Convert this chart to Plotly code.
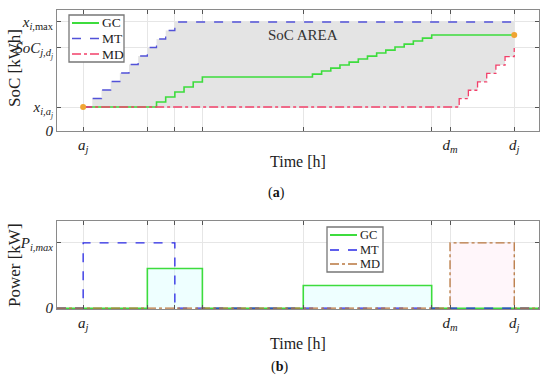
import plotly.graph_objects as go

# ---- data (time in charging steps, a_j = 0) ----
x_range = [-2.85, 49.7]
grid_t = [0, 7, 10, 13, 24, 38, 40, 47]
x_tick_vals = [0, 40, 47]
x_tick_text = ["<i>a<sub>j</sub></i>", "<i>d<sub>m</sub></i>", "<i>d<sub>j</sub></i>"]

soc_tick_vals = [0, 0.22, 0.762, 1.0]
soc_tick_text = ["<i>0</i>", "<i>x<sub>i,a<sub>j</sub></sub></i>",
                 "<i>S\u0303oC<sub>j,d<sub>j</sub></sub></i>", "<i>x<sub>i,</sub></i><sub>max</sub>"]
pow_tick_vals = [0, 1.0]
pow_tick_text = ["<i>0</i>", "<i>P<sub>i,max</sub></i>"]

# SoC staircases (value held after each time point)
mt_t = [0, 1, 2, 3, 4, 5, 6, 7, 8, 9, 10, 47]
mt_soc = [0.22, 0.298, 0.376, 0.454, 0.532, 0.61, 0.688, 0.766, 0.844, 0.922, 1.0, 1.0]
gc_t = [0, 7, 8, 9, 10, 11, 12, 13, 24, 25, 26, 27, 28, 29, 30, 31, 32, 33, 34, 35, 36, 37, 38, 47]
gc_soc = [0.22, 0.22, 0.266, 0.312, 0.358, 0.404, 0.45, 0.495, 0.495, 0.522, 0.55, 0.577,
          0.605, 0.632, 0.66, 0.687, 0.715, 0.742, 0.77, 0.797, 0.825, 0.852, 0.881, 0.881]
md_t = [0, 40, 41, 42, 43, 44, 45, 46, 47]
md_soc = [0.22, 0.22, 0.297, 0.374, 0.451, 0.528, 0.605, 0.682, 0.762]

# Power blocks: (start, end, level as fraction of P_max)
mt_blocks = [(0, 10, 1.0)]
gc_blocks = [(7, 13, 0.606), (24, 38, 0.348)]
md_blocks = [(40, 47, 1.0)]

series_names = ["GC", "MT", "MD"]

# ---- helpers ----
def expand(ts, vs):
    xs, ys = [ts[0]], [vs[0]]
    for i in range(1, len(ts)):
        xs += [ts[i], ts[i]]
        ys += [vs[i - 1], vs[i]]
    return xs, ys

def block_path(blocks):
    xs, ys = [x_range[0]], [0]
    for s, e, p in blocks:
        xs += [s, s, e, e]
        ys += [0, p, p, 0]
    xs.append(x_range[1]); ys.append(0)
    return xs, ys

W, H = 550, 379
def px(x): return x / W
def py(y): return 1 - y / H

SERIF = "Liberation Serif"
GREEN = "#3ddc3d"
BLUE_A = "#5252d8"
RED_A = "#f2406a"
BLUE_B = "#2a2ae6"
BROWN_B = "#b9773f"
ORANGE = "#f0a432"

fig = go.Figure()

# SoC area fill
mx, my = expand(mt_t, mt_soc)
dx, dy = expand(md_t, md_soc)
fig.add_trace(go.Scatter(x=mx + dx[::-1], y=my + dy[::-1], fill="toself",
                         fillcolor="#e4e4e4", line=dict(width=0), mode="lines",
                         showlegend=False, hoverinfo="skip", xaxis="x", yaxis="y"))

gx, gy = expand(gc_t, gc_soc)
fig.add_trace(go.Scatter(x=gx, y=gy, mode="lines", name="GC", showlegend=False,
                         line=dict(color=GREEN, width=1.6)))
fig.add_trace(go.Scatter(x=mx, y=my, mode="lines", name="MT", showlegend=False,
                         line=dict(color=BLUE_A, width=1.3, dash="dash")))
fig.add_trace(go.Scatter(x=dx, y=dy, mode="lines", name="MD", showlegend=False,
                         line=dict(color=RED_A, width=1.3, dash="dashdot")))
fig.add_trace(go.Scatter(x=[gc_t[0], gc_t[-1]], y=[gc_soc[0], gc_soc[-1]], mode="markers",
                         marker=dict(color=ORANGE, size=6), showlegend=False, hoverinfo="skip"))

# Bottom: faint backdrop fills
for blocks, col in [(gc_blocks, "rgba(205,255,255,0.35)"), (md_blocks, "rgba(255,222,236,0.28)")]:
    for s, e, p in blocks:
        fig.add_trace(go.Scatter(x=[s, s, e, e, s], y=[0, p, p, 0, 0], fill="toself",
                                 fillcolor=col, line=dict(width=0), mode="lines",
                                 showlegend=False, hoverinfo="skip", xaxis="x2", yaxis="y2"))

bx, by = block_path(gc_blocks)
fig.add_trace(go.Scatter(x=bx, y=by, mode="lines", name="GC", xaxis="x2", yaxis="y2",
                         showlegend=False, line=dict(color=GREEN, width=1.6)))
bx, by = block_path(mt_blocks)
fig.add_trace(go.Scatter(x=bx, y=by, mode="lines", name="MT", xaxis="x2", yaxis="y2",
                         showlegend=False, line=dict(color=BLUE_B, width=1.3, dash="dash")))
bx, by = block_path(md_blocks)
fig.add_trace(go.Scatter(x=bx, y=by, mode="lines", name="MD", xaxis="x2", yaxis="y2",
                         showlegend=False, line=dict(color=BROWN_B, width=1.3, dash="dashdot")))

xdom = [px(57), px(539)]
axis_common = dict(showline=True, linecolor="#8a8a8a", linewidth=1, mirror="ticks",
                   ticks="inside", ticklen=4, tickcolor="#555", showgrid=True,
                   gridcolor="#e6e6e6", gridwidth=1, zeroline=False, automargin=False,
                   tickfont=dict(family=SERIF, size=15, color="#222"))

xtt = [x_tick_text[x_tick_vals.index(t)] if t in x_tick_vals else "" for t in grid_t]
fig.update_layout(
    width=W, height=H, margin=dict(l=0, r=0, t=0, b=0),
    paper_bgcolor="white", plot_bgcolor="white", showlegend=False,
    xaxis=dict(domain=xdom, range=x_range, tickvals=grid_t, ticktext=xtt, anchor="y", **axis_common),
    yaxis=dict(domain=[py(131), py(10)], range=[0, 1.11], tickvals=soc_tick_vals,
               ticktext=soc_tick_text, anchor="x", **axis_common),
    xaxis2=dict(domain=xdom, range=x_range, tickvals=grid_t, ticktext=xtt, anchor="y2", **axis_common),
    yaxis2=dict(domain=[py(309), py(221)], range=[-0.012, 1.333], tickvals=pow_tick_vals,
                ticktext=pow_tick_text, anchor="x2", **axis_common),
)

# ---- manual legends (box, line samples, labels) ----
shapes = []
legend_specs = [
    dict(box=(69, 124, 15, 62), sx=(72, 99), rows=(23, 38.5, 54),
         styles=[(GREEN, "solid", 1.6), (BLUE_A, "dash", 1.3), (RED_A, "dashdot", 1.3)], fs=13.5),
    dict(box=(327, 383, 227, 272), sx=(330, 357), rows=(235, 250, 264),
         styles=[(GREEN, "solid", 1.6), (BLUE_B, "dash", 1.3), (BROWN_B, "dashdot", 1.3)], fs=12.5),
]
for spec in legend_specs:
    x0, x1, y0, y1 = spec["box"]
    shapes.append(dict(type="rect", xref="paper", yref="paper", x0=px(x0), x1=px(x1),
                       y0=py(y1), y1=py(y0), fillcolor="white",
                       line=dict(color="#777", width=1.3), layer="above"))
    for name, ry, (c, d, w) in zip(series_names, spec["rows"], spec["styles"]):
        shapes.append(dict(type="line", xref="paper", yref="paper", x0=px(spec["sx"][0]),
                           x1=px(spec["sx"][1]), y0=py(ry), y1=py(ry),
                           line=dict(color=c, dash=d, width=w + 0.4), layer="above"))
        fig.add_annotation(xref="paper", yref="paper", x=px(spec["sx"][1] + 1), y=py(ry),
                           text=name, showarrow=False, xanchor="left", yanchor="middle",
                           font=dict(family=SERIF, size=spec["fs"], color="#222"))
fig.update_layout(shapes=shapes)

ann = [
    dict(text="SoC AREA", x=px(303), y=py(35), font=dict(family=SERIF, size=15, color="#333")),
    dict(text="Time [h]", x=px(298), y=py(161), font=dict(family=SERIF, size=16, color="#222")),
    dict(text="Time [h]", x=px(298), y=py(343), font=dict(family=SERIF, size=16, color="#222")),
    dict(text="SoC [kWh]", x=px(15), y=py(68), textangle=-90, font=dict(family=SERIF, size=17, color="#222")),
    dict(text="Power [kW]", x=px(14), y=py(265), textangle=-90, font=dict(family=SERIF, size=17, color="#222")),
    dict(text="(<b>a</b>)", x=px(276), y=py(193), font=dict(family=SERIF, size=14, color="#111")),
    dict(text="(<b>b</b>)", x=px(280), y=py(367), font=dict(family=SERIF, size=14, color="#111")),
]
for a in ann:
    fig.add_annotation(xref="paper", yref="paper", showarrow=False, xanchor="center", yanchor="middle", **a)

fig.write_html("out.html", config={"displayModeBar": False},
               post_script="document.body.style.margin='0';document.body.style.overflow='hidden';")
